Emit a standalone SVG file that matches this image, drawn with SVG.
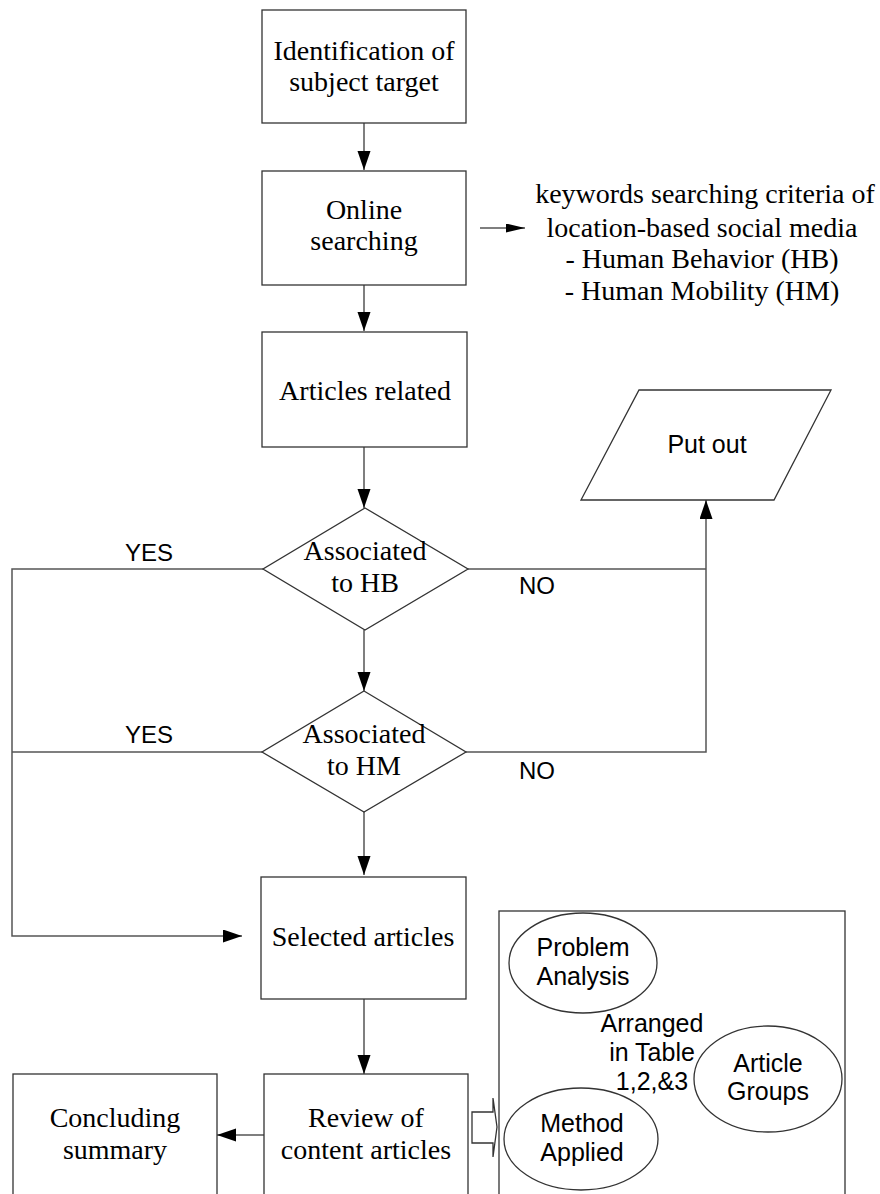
<svg xmlns="http://www.w3.org/2000/svg" width="880" height="1194" viewBox="0 0 880 1194">
<defs>
<style>
.box{fill:#fff;stroke:#333;stroke-width:1.3}
.ln{fill:none;stroke:#555;stroke-width:1.5}
.serif{font-family:"Liberation Serif","Times New Roman",serif;font-size:28px;fill:#000;text-anchor:middle}
.sans{font-family:"Liberation Sans",Arial,sans-serif;font-size:25px;fill:#000;text-anchor:middle}
.lbl{font-family:"Liberation Sans",Arial,sans-serif;font-size:24px;fill:#000}
</style>
<marker id="ah" markerUnits="userSpaceOnUse" markerWidth="20" markerHeight="14" refX="19" refY="6.5" orient="auto" viewBox="0 0 20 14">
<path d="M0,0 L19,6.5 L0,13 z" fill="#000"/>
</marker>
<marker id="ahs" markerUnits="userSpaceOnUse" markerWidth="20" markerHeight="10" refX="19" refY="4.5" orient="auto" viewBox="0 0 20 10">
<path d="M0,0 L19,4.5 L0,9 z" fill="#000"/>
</marker>
</defs>
<rect width="880" height="1194" fill="#fff"/>

<g id="connectors">
<line class="ln" x1="364" y1="123" x2="364" y2="170" marker-end="url(#ah)"/>
<line class="ln" x1="364" y1="285" x2="364" y2="331" marker-end="url(#ah)"/>
<line class="ln" x1="480" y1="228" x2="525" y2="228" marker-end="url(#ahs)"/>
<line class="ln" x1="364" y1="447" x2="364" y2="508" marker-end="url(#ah)"/>
<line class="ln" x1="364" y1="630" x2="364" y2="691" marker-end="url(#ah)"/>
<line class="ln" x1="364" y1="812" x2="364" y2="875" marker-end="url(#ah)"/>
<line class="ln" x1="364" y1="999" x2="364" y2="1074" marker-end="url(#ah)"/>
<polyline class="ln" points="468,569 706,569"/>
<polyline class="ln" points="466,752 706,752 706,569"/>
<line class="ln" x1="706" y1="569" x2="706" y2="500" marker-end="url(#ah)"/>
<polyline class="ln" points="263,569 12,569 12,936 242,936" marker-end="url(#ah)"/>
<line class="ln" x1="262" y1="752" x2="12" y2="752"/>
<line class="ln" x1="264" y1="1135" x2="217" y2="1135" marker-end="url(#ah)"/>
<polygon class="box" points="472,1112 493,1112 493,1098 497,1127 493,1157 493,1143 472,1143"/>
<text class="lbl" x="125" y="561">YES</text>
<text class="lbl" x="519" y="594">NO</text>
<text class="lbl" x="125" y="743">YES</text>
<text class="lbl" x="519" y="779">NO</text>
</g>

<g id="identification">
<rect class="box" x="262" y="10" width="204" height="113"/>
<text class="serif" x="364" y="60">Identification of</text>
<text class="serif" x="364" y="91">subject target</text>
</g>

<g id="online">
<rect class="box" x="262" y="171" width="204" height="114"/>
<text class="serif" x="364" y="219">Online</text>
<text class="serif" x="364" y="250">searching</text>
</g>

<g id="keywords">
<text class="serif" x="705" y="203">keywords searching criteria of</text>
<text class="serif" x="702" y="237">location-based social media</text>
<text class="serif" x="702" y="268">- Human Behavior (HB)</text>
<text class="serif" x="702" y="300">- Human Mobility (HM)</text>
</g>

<g id="articles-related">
<rect class="box" x="262" y="332" width="205" height="115"/>
<text class="serif" x="365" y="400">Articles related</text>
</g>

<g id="put-out">
<polygon class="box" points="639,390 831,390 774,500 581,500"/>
<text class="sans" x="707" y="453">Put out</text>
</g>

<g id="decision-hb">
<polygon class="box" points="365,508 468,569 365,630 263,569"/>
<text class="serif" x="365" y="560">Associated</text>
<text class="serif" x="365" y="592">to HB</text>
</g>

<g id="decision-hm">
<polygon class="box" points="364,691 466,752 364,812 262,752"/>
<text class="serif" x="364" y="743">Associated</text>
<text class="serif" x="364" y="775">to HM</text>
</g>

<g id="selected">
<rect class="box" x="261" y="877" width="205" height="122"/>
<text class="serif" x="363" y="946">Selected articles</text>
</g>

<g id="review">
<rect class="box" x="264" y="1074" width="204" height="140"/>
<text class="serif" x="366" y="1127">Review of</text>
<text class="serif" x="366" y="1159">content articles</text>
</g>

<g id="concluding">
<rect class="box" x="13" y="1074" width="204" height="140"/>
<text class="serif" x="115" y="1127">Concluding</text>
<text class="serif" x="115" y="1159">summary</text>
</g>

<g id="groups-panel">
<rect class="box" x="499" y="911" width="346" height="300"/>
<ellipse class="box" cx="583" cy="963" rx="74" ry="50"/>
<text class="sans" x="583" y="956">Problem</text>
<text class="sans" x="583" y="985">Analysis</text>
<ellipse class="box" cx="768" cy="1079" rx="74" ry="53"/>
<text class="sans" x="768" y="1072">Article</text>
<text class="sans" x="768" y="1100">Groups</text>
<ellipse class="box" cx="581" cy="1139" rx="77" ry="51"/>
<text class="sans" x="582" y="1132">Method</text>
<text class="sans" x="582" y="1161">Applied</text>
<text class="sans" x="652" y="1032">Arranged</text>
<text class="sans" x="652" y="1061">in Table</text>
<text class="sans" x="652" y="1090">1,2,&amp;3</text>
</g>
</svg>
